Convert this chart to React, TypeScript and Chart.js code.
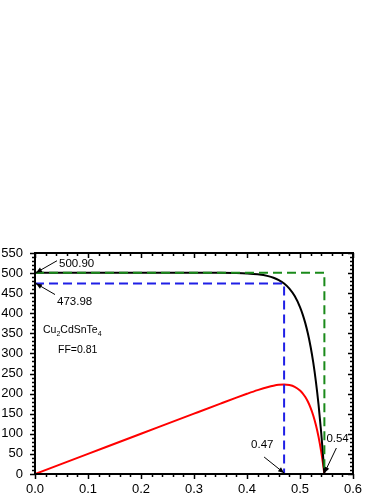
import React, { useEffect, useRef } from "react";
import { Chart, registerables } from "chart.js";

Chart.register(...registerables);

// Voltage (V)
const voltage = [0, 0.1, 0.2, 0.3, 0.35, 0.38, 0.4, 0.42, 0.44, 0.45, 0.46, 0.47, 0.48, 0.49, 0.5, 0.505, 0.51, 0.515, 0.52, 0.525, 0.53, 0.535, 0.54, 0.543, 0.546];
// Current density J (black curve)
const currentDensity = [500.9, 500.9, 500.9, 500.86, 500.63, 500.05, 499.08, 496.96, 492.4, 488.4, 482.6, 473.98, 461.3, 442.8, 415.5, 397.4, 375.5, 348.9, 316.6, 277.6, 230.1, 172.8, 103.2, 54.6, 0];
// Power density P (red curve)
const power = [0, 50.09, 100.18, 150.26, 175.2, 190.0, 199.6, 208.7, 216.7, 219.8, 222.0, 222.8, 221.4, 217.0, 207.8, 200.7, 191.5, 179.7, 164.6, 145.7, 122.0, 92.4, 55.7, 29.6, 0];

// Key values
const jsc = 500.9;
const jmp = 473.98;
const vmp = 0.47;
const voc = 0.546;

// Axis settings
const xMin = 0;
const xMax = 0.6;
const xMajorStep = 0.1;
const xMinorPerMajor = 5;
const yMin = 0;
const yMax = 550;
const yMajorStep = 50;
const yMinorPerMajor = 5;

const FONT = "'Liberation Sans', Arial, Helvetica, sans-serif";

function arrow(ctx: CanvasRenderingContext2D, x1: number, y1: number, x2: number, y2: number) {
  ctx.save();
  ctx.strokeStyle = "#000";
  ctx.fillStyle = "#000";
  ctx.lineWidth = 1;
  ctx.beginPath();
  ctx.moveTo(x1, y1);
  ctx.lineTo(x2, y2);
  ctx.stroke();
  const ang = Math.atan2(y2 - y1, x2 - x1);
  const len = 6;
  const w = 2.5;
  ctx.beginPath();
  ctx.moveTo(x2, y2);
  ctx.lineTo(x2 - len * Math.cos(ang) + w * Math.sin(ang), y2 - len * Math.sin(ang) - w * Math.cos(ang));
  ctx.lineTo(x2 - len * Math.cos(ang) - w * Math.sin(ang), y2 - len * Math.sin(ang) + w * Math.cos(ang));
  ctx.closePath();
  ctx.fill();
  ctx.restore();
}

const framePlugin = {
  id: "frameTicks",
  afterDraw(chart: any) {
    const { ctx, chartArea: a, scales } = chart;
    const xs = scales.x;
    const ys = scales.y;
    ctx.save();
    ctx.strokeStyle = "#000";
    ctx.lineWidth = 1.5;
    const majLen = 5;
    const minLen = 3;
    const nx = Math.round((xMax - xMin) / xMajorStep) * xMinorPerMajor;
    for (let i = 0; i <= nx; i++) {
      const v = xMin + (i * xMajorStep) / xMinorPerMajor;
      const px = Math.round(xs.getPixelForValue(v)) + 0.5;
      const len = i % xMinorPerMajor === 0 ? majLen : minLen;
      ctx.beginPath();
      ctx.moveTo(px, a.bottom);
      ctx.lineTo(px, a.bottom + len);
      ctx.moveTo(px, a.top);
      ctx.lineTo(px, a.top + len);
      ctx.stroke();
    }
    const ny = Math.round((yMax - yMin) / yMajorStep) * yMinorPerMajor;
    for (let i = 0; i <= ny; i++) {
      const v = yMin + (i * yMajorStep) / yMinorPerMajor;
      const py = Math.round(ys.getPixelForValue(v)) + 0.5;
      const len = i % yMinorPerMajor === 0 ? majLen : minLen;
      ctx.beginPath();
      ctx.moveTo(a.left - len, py);
      ctx.lineTo(a.left, py);
      ctx.moveTo(a.right - len, py);
      ctx.lineTo(a.right, py);
      ctx.stroke();
    }
    ctx.lineWidth = 2;
    ctx.strokeRect(a.left, a.top, a.right - a.left, a.bottom - a.top);

    // annotations
    const pJscX = xs.getPixelForValue(0);
    const pJscY = ys.getPixelForValue(jsc);
    const pJmpY = ys.getPixelForValue(jmp);
    const pVmpX = xs.getPixelForValue(vmp);
    const pVocX = xs.getPixelForValue(voc);
    const pZeroY = ys.getPixelForValue(0);

    arrow(ctx, pJscX + 22, pJscY - 12, pJscX + 1, pJscY);
    arrow(ctx, pJscX + 20, pJmpY + 11, pJscX + 1, pJmpY);
    arrow(ctx, pVmpX - 20, pZeroY - 17, pVmpX, pZeroY - 1);
    arrow(ctx, pVocX + 12, pZeroY - 26, pVocX, pZeroY - 1);

    ctx.fillStyle = "#000";
    ctx.textBaseline = "middle";
    ctx.textAlign = "left";
    ctx.font = `11.5px ${FONT}`;
    ctx.fillText(String(jsc.toFixed(2)), pJscX + 24, pJscY - 9);
    ctx.fillText(String(jmp.toFixed(2)), pJscX + 22, pJmpY + 18);
    ctx.fillText(vmp.toFixed(2), pVmpX - 33, pZeroY - 29);
    ctx.fillText("0.54", pVocX + 2, pZeroY - 35);

    // Compound label with subscripts
    ctx.font = `10.5px ${FONT}`;
    ctx.textBaseline = "alphabetic";
    let tx = a.left + 8;
    const ty = ys.getPixelForValue(360) + 4;
    const parts: [string, boolean][] = [["Cu", false], ["2", true], ["CdSnTe", false], ["4", true]];
    for (const [t, sub] of parts) {
      ctx.font = sub ? `7px ${FONT}` : `10.5px ${FONT}`;
      ctx.fillText(t, tx, sub ? ty + 3 : ty);
      tx += ctx.measureText(t).width;
    }
    ctx.font = `10.5px ${FONT}`;
    ctx.fillText("FF=0.81", a.left + 23, ty + 20);
    ctx.restore();
  },
};

export default function App() {
  const ref = useRef<HTMLCanvasElement | null>(null);
  useEffect(() => {
    if (!ref.current) return;
    Chart.defaults.font.family = FONT;
    const toXY = (ys: number[]) => voltage.map((v, i) => ({ x: v, y: ys[i] }));
    const chart = new Chart(ref.current, {
      type: "line",
      data: {
        datasets: [
          {
            label: "Pmax guide",
            data: [
              { x: 0, y: jmp },
              { x: vmp, y: jmp },
              { x: vmp, y: 0 },
            ],
            borderColor: "#1f1fe6",
            borderWidth: 2,
            borderDash: [9, 5],
            pointRadius: 0,
            tension: 0,
          },
          {
            label: "Jsc/Voc guide",
            data: [
              { x: 0, y: jsc },
              { x: voc, y: jsc },
              { x: voc, y: 0 },
            ],
            borderColor: "#1a8a1a",
            borderWidth: 2,
            borderDash: [9, 5],
            pointRadius: 0,
            tension: 0,
          },
          {
            label: "J",
            data: toXY(currentDensity),
            borderColor: "#000000",
            borderWidth: 2,
            pointRadius: 0,
            cubicInterpolationMode: "monotone",
          },
          {
            label: "P",
            data: toXY(power),
            borderColor: "#ff0000",
            borderWidth: 2,
            pointRadius: 0,
            cubicInterpolationMode: "monotone",
          },
        ],
      },
      options: {
        animation: false,
        responsive: false,
        devicePixelRatio: 1,
        layout: { padding: { top: 253, right: 33, left: 0, bottom: 0 } },
        plugins: { legend: { display: false }, tooltip: { enabled: false } },
        scales: {
          x: {
            type: "linear",
            min: xMin,
            max: xMax,
            grid: { display: false, drawTicks: false },
            border: { display: false },
            ticks: {
              stepSize: xMajorStep,
              padding: 8,
              color: "#000",
              font: { size: 13 },
              callback: (v: any) => Number(v).toFixed(1),
            },
            afterFit: (s: any) => {
              s.height = 26;
            },
          },
          y: {
            type: "linear",
            min: yMin,
            max: yMax,
            grid: { display: false, drawTicks: false },
            border: { display: false },
            ticks: {
              stepSize: yMajorStep,
              padding: 12,
              color: "#000",
              font: { size: 13 },
            },
            afterFit: (s: any) => {
              s.width = 35;
            },
          },
        },
      },
      plugins: [framePlugin],
    });
    return () => chart.destroy();
  }, []);
  return (
    <div style={{ position: "absolute", left: 0, top: 0, width: 386, height: 500, background: "#fff" }}>
      <canvas ref={ref} width={386} height={500} />
    </div>
  );
}
